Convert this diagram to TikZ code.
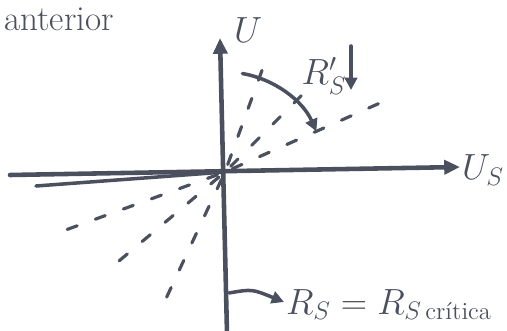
\documentclass[tikz,border=0pt]{standalone}
\usepackage{amsmath}
\usetikzlibrary{arrows.meta,calc}
\definecolor{tinta}{HTML}{4B505E}
\begin{document}
\begin{tikzpicture}[x=0.02cm, y=-0.02cm, line cap=round,
    eje/.style={draw=tinta, line width=2.6pt, -{Triangle[length=9pt, width=8pt]}},
    rayo/.style={draw=tinta, line width=1.8pt, dash pattern=on 6pt off 11pt},
    flecha/.style={draw=tinta, line width=2pt, -{Triangle[length=7pt, width=7pt]}},
    rotulo/.style={text=tinta, font=\fontsize{20}{24}\selectfont, inner sep=1pt}]
    \useasboundingbox (0,0) rectangle (507,331);

    % titulo
    \node[rotulo, anchor=base west] (anterior) at (2,31) {anterior};

    % ejes
    \coordinate (O) at (225,172);
    \coordinate (ejeX0) at (10,175);
    \coordinate (ejeX1) at (460,167);
    \coordinate (ejeY0) at (227,333);
    \coordinate (ejeY1) at (220,38);
    \draw[eje] (ejeX0) -- (ejeX1);
    \draw[draw=tinta, line width=2pt] (36,186) -- (O);
    \draw[eje] (ejeY0) -- (ejeY1);
    \node[rotulo, anchor=west] (U) at (232,30) {$U$};
    \node[rotulo, anchor=east] (Us) at (506,170) {$U_S$};

    % rectas de carga
    \foreach \ang/\r in {-24/170, -45/108, -70/125, 160/170, 140/155, 115/150}
        \draw[rayo] (O) ++(\ang:8) -- ++(\ang:\r-8);

    % giro al bajar R'_S
    \coordinate (arcoIni) at ($(O)+(-80:100)$);
    \draw[flecha] (arcoIni) arc (-80:-24:100) coordinate (arcoFin);
    \node[rotulo] (Rsp) at (324,76) {$R_S'$};
    \coordinate (bajaIni) at (351,46);
    \coordinate (bajaFin) at (351,90);
    \draw[flecha] (bajaIni) -- (bajaFin);

    % caso critico
    \node[rotulo, anchor=base west] (critica) at (284,314) {$R_S = R_{S\,\text{crítica}}$};
    \coordinate (flechaIni) at (229,293);
    \draw[flecha] (flechaIni) .. controls (252,289) .. (critica.west |- 0,302);
\end{tikzpicture}
\end{document}
